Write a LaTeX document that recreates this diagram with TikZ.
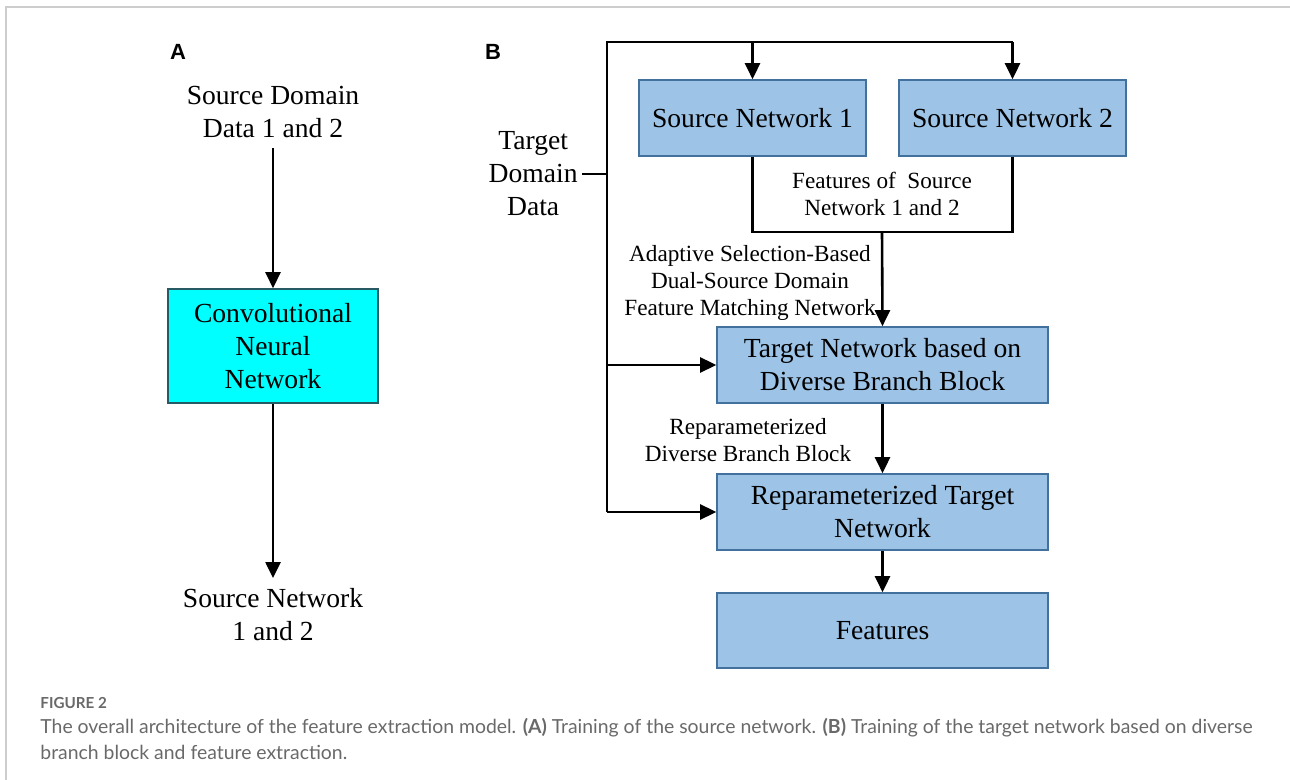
\documentclass[tikz,border=0pt]{standalone}
\usepackage{fontspec}
\setmainfont{Liberation Serif}
\newfontfamily\capfont{Lato}
\newfontfamily\panelfont{Liberation Sans}
\usetikzlibrary{arrows.meta}

\definecolor{boxblue}{RGB}{157,195,230}
\definecolor{boxedge}{RGB}{65,113,156}
\definecolor{cnnfill}{RGB}{0,255,255}
\definecolor{cnnedge}{RGB}{40,90,100}
\definecolor{capgray}{RGB}{105,105,105}
\definecolor{framegray}{RGB}{205,205,205}

\tikzset{
  blk/.style={draw=boxedge, fill=boxblue, line width=0.8pt, align=center, inner sep=0pt,
    font=\fontsize{13.8}{16.5}\selectfont},
  txt/.style={align=center, inner sep=0pt, font=\fontsize{13.8}{16.5}\selectfont},
  lbl/.style={align=center, inner sep=0pt, font=\fontsize{11.6}{13.6}\selectfont},
  panel/.style={font=\panelfont\bfseries\fontsize{11}{13}\selectfont},
  wire/.style={line width=1.3pt},
  arr/.style={wire, -{Triangle[length=8pt,width=7.5pt]}},
}

\begin{document}
\begin{tikzpicture}[x=0.5pt, y=-0.5pt]

  \useasboundingbox (0,0) rectangle (1290,780);
  \draw[framegray, line width=0.6pt] (6,780) -- (6,7) -- (1290,7);

  \node[panel] (pa) at (178,52) {A};
  \node[panel] (pb) at (493,52) {B};

  %% panel A
  \node[txt] (srcdata) at (273,112) {Source Domain\\Data 1 and 2};
  \node[blk, fill=cnnfill, draw=cnnedge, minimum width=105pt, minimum height=57pt] (cnn) at (273,346)
    {Convolutional\\Neural\\Network};
  \node[txt] (srcnet) at (273,615) {Source Network\\1 and 2};

  \draw[arr, shorten <=5pt] (srcdata.south) -- (cnn.north);
  \draw[arr] (cnn.south) -- (273,578) coordinate (srcin);

  %% panel B
  \node[txt, anchor=east] (tgtdata) at (578,174) {Target\\Domain\\Data};
  \node[blk, minimum width=113.5pt, minimum height=38pt] (sn1) at (752.5,118) {Source Network 1};
  \node[blk, minimum width=113.5pt, minimum height=38pt] (sn2) at (1012.5,118) {Source Network 2};
  \node[blk, minimum width=165.5pt, minimum height=38pt] (tn) at (882.5,365)
    {Target Network based on\\Diverse Branch Block};
  \node[blk, minimum width=165.5pt, minimum height=38pt] (rt) at (882.5,512)
    {Reparameterized Target\\Network};
  \node[blk, minimum width=165.5pt, minimum height=37.5pt] (feat) at (882.5,630.5) {Features};

  \node[lbl] (featlbl) at (882,194) {Features of\ \ Source\\Network 1 and 2};
  \node[lbl] (adalbl) at (750,283) {Adaptive Selection-Based\\Dual-Source Domain\\Feature Matching Network};
  \node[lbl] (replbl) at (748,440) {Reparameterized\\Diverse Branch Block};

  \coordinate (jn) at (607,174);
  \coordinate (tl) at (607,42);
  \coordinate (bl) at (607,512);
  \coordinate (mrg) at (882,232);

  \draw[wire, shorten <=2pt] (tgtdata.east) -- (jn);
  \draw[wire] (sn2.north |- tl) -- (tl) -- (bl);
  \draw[arr] (sn1.north |- tl) -- (sn1.north); % -> SN1
  \draw[arr] (sn2.north |- tl) -- (sn2.north); % -> SN2
  \draw[arr] (tn.west -| tl) -- (tn.west);
  \draw[arr] (bl) -- (rt.west);

  \draw[wire] (sn1.south) |- (mrg) -| (sn2.south); % features of SN1, SN2
  \draw[arr] (mrg) -- (tn.north);
  \draw[arr] (tn.south) -- (rt.north);
  \draw[arr] (rt.south) -- (feat.north);

  %% caption
  \node[anchor=west, inner sep=0pt, text=capgray, font=\capfont\bfseries\fontsize{7.6}{10}\selectfont] (fig)
    at (40,703) {FIGURE 2};
  \node[anchor=west, inner sep=0pt, text=capgray, font=\capfont\fontsize{9.7}{12}\selectfont] (cap1)
    at (40,728) {The overall architecture of the feature extraction model. \textbf{(A)} Training of the source network. \textbf{(B)} Training of the target network based on diverse};
  \node[anchor=west, inner sep=0pt, text=capgray, font=\capfont\fontsize{9.7}{12}\selectfont] (cap2)
    at (40,752) {branch block and feature extraction.};

\end{tikzpicture}
\end{document}
